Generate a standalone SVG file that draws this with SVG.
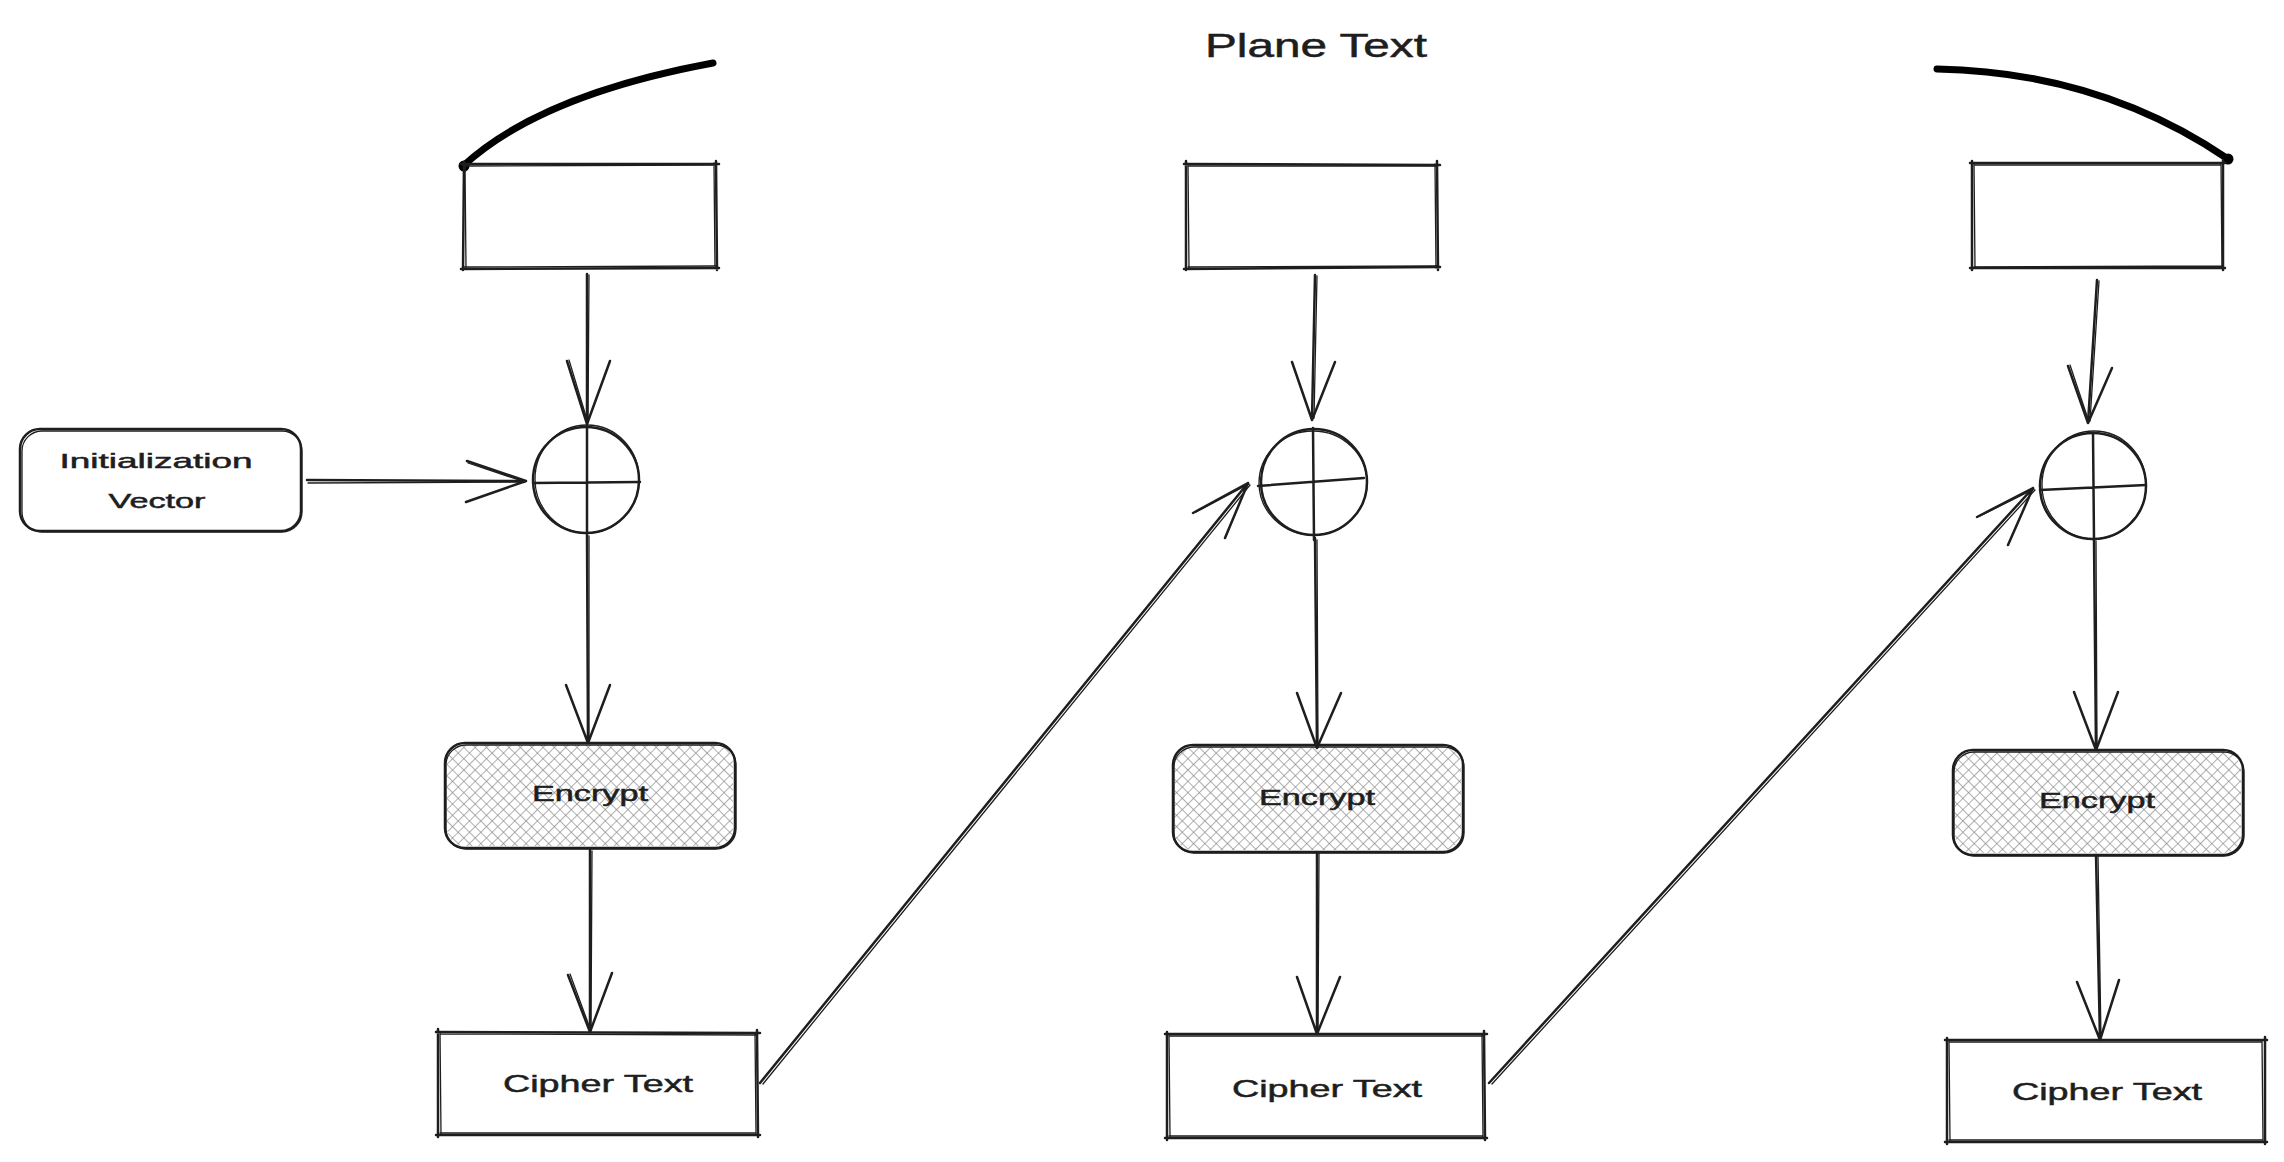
<svg xmlns="http://www.w3.org/2000/svg" width="2284" height="1162" viewBox="0 0 2284 1162">
<style>
.s{fill:none;stroke:#1e1e1e;stroke-width:2.5;stroke-linecap:round;stroke-linejoin:round}
.t{fill:none;stroke:#1e1e1e;stroke-width:1.3;stroke-linecap:round;stroke-linejoin:round}
.thick{fill:none;stroke:#000;stroke-width:7;stroke-linecap:round}
.lbl{font-family:"Liberation Sans","DejaVu Sans",sans-serif;fill:#1e1e1e;stroke:#1e1e1e;stroke-width:0.5;text-anchor:middle}
.enc{fill:url(#hatch)}
</style>
<defs>
<pattern id="hatch" patternUnits="userSpaceOnUse" width="8" height="8" patternTransform="rotate(45)">
<rect width="8" height="8" fill="#fff"/>
<line x1="0" y1="0" x2="0" y2="8" stroke="#8c8c8c" stroke-width="1.4"/>
<line x1="0" y1="0" x2="8" y2="0" stroke="#8c8c8c" stroke-width="1.4"/>
</pattern>
</defs>
<rect width="2284" height="1162" fill="#fff"/>

<g id="title">
<text class="lbl" x="1316" y="57" font-size="34" textLength="222" lengthAdjust="spacingAndGlyphs">Plane Text</text>
</g>

<g id="brace-left">
<path class="thick" d="M463,166 Q540,95 713,63"/>
<circle cx="464" cy="166" r="5.5" fill="#000"/>
</g>
<g id="brace-right">
<path class="thick" d="M1937,69 Q2100,72 2228,159"/>
<circle cx="2228" cy="159" r="5.5" fill="#000"/>
</g>

<g id="plain1">
<path class="s" d="M461,164 L719,164 M716,161 L717,270 M719,268 L461,269 M463,270 L464,162"/>
<path class="t" d="M464,166 L716,165 M714,163 L715,268 M716,266 L464,267 M466,268 L465,164"/>
</g>
<g id="plain2">
<path class="s" d="M1184,164 L1440,165 M1437,161 L1438,270 M1440,267 L1184,269 M1186,270 L1186,161"/>
<path class="t" d="M1188,166 L1436,166 M1435,164 L1436,268 M1437,266 L1188,267 M1189,268 L1188,164"/>
</g>
<g id="plain3">
<path class="s" d="M1970,163 L2225,163 M2223,160 L2223,270 M2225,268 L1970,268 M1972,270 L1972,161"/>
<path class="t" d="M1974,165 L2221,165 M2221,163 L2222,268 M2222,266 L1974,267 M1975,268 L1974,163"/>
</g>

<g id="iv">
<rect class="s" x="20" y="429" width="281" height="102" rx="20"/>
<rect class="t" x="22" y="431" width="280" height="101" rx="20"/>
<text class="lbl" x="156" y="468" font-size="21" textLength="193" lengthAdjust="spacingAndGlyphs">Initialization</text>
<text class="lbl" x="157" y="508" font-size="21" textLength="97" lengthAdjust="spacingAndGlyphs">Vector</text>
</g>

<g id="xor1">
<circle class="s" cx="586" cy="480" r="53"/>
<ellipse class="t" cx="587" cy="479" rx="52" ry="54"/>
<path class="s" d="M587,426 L587,534 M533,483 L640,482"/>
</g>
<g id="xor2">
<circle class="s" cx="1314" cy="482" r="53"/>
<ellipse class="t" cx="1313" cy="483" rx="54" ry="52"/>
<path class="s" d="M1313,428 L1314,540 M1258,486 L1364,478"/>
</g>
<g id="xor3">
<circle class="s" cx="2093" cy="486" r="53"/>
<ellipse class="t" cx="2094" cy="485" rx="52" ry="54"/>
<path class="s" d="M2093,433 L2094,540 M2040,490 L2146,485"/>
</g>

<g id="enc1">
<rect class="enc" x="447" y="745" width="286" height="101" rx="18"/>
<rect class="s" x="445" y="743" width="290" height="105" rx="20"/>
<rect class="t" x="446" y="745" width="290" height="104" rx="20"/>
<text class="lbl" x="590" y="801" font-size="22" textLength="116" lengthAdjust="spacingAndGlyphs">Encrypt</text>
</g>
<g id="enc2">
<rect class="enc" x="1175" y="747" width="286" height="103" rx="18"/>
<rect class="s" x="1173" y="745" width="290" height="107" rx="20"/>
<rect class="t" x="1174" y="747" width="290" height="106" rx="20"/>
<text class="lbl" x="1317" y="805" font-size="22" textLength="116" lengthAdjust="spacingAndGlyphs">Encrypt</text>
</g>
<g id="enc3">
<rect class="enc" x="1955" y="752" width="286" height="101" rx="18"/>
<rect class="s" x="1953" y="750" width="290" height="105" rx="20"/>
<rect class="t" x="1954" y="752" width="290" height="104" rx="20"/>
<text class="lbl" x="2097" y="808" font-size="22" textLength="116" lengthAdjust="spacingAndGlyphs">Encrypt</text>
</g>

<g id="cipher1">
<path class="s" d="M436,1032 L760,1033 M757,1030 L758,1137 M760,1135 L436,1135 M438,1137 L438,1029"/>
<path class="t" d="M440,1034 L756,1035 M755,1033 L756,1134 M756,1133 L440,1133 M441,1134 L440,1032"/>
<text class="lbl" x="598" y="1092" font-size="24" textLength="190" lengthAdjust="spacingAndGlyphs">Cipher Text</text>
</g>
<g id="cipher2">
<path class="s" d="M1165,1034 L1487,1034 M1484,1031 L1485,1140 M1487,1138 L1165,1138 M1167,1140 L1167,1032"/>
<path class="t" d="M1169,1036 L1483,1036 M1482,1035 L1483,1137 M1483,1136 L1169,1136 M1170,1137 L1169,1035"/>
<text class="lbl" x="1327" y="1097" font-size="24" textLength="190" lengthAdjust="spacingAndGlyphs">Cipher Text</text>
</g>
<g id="cipher3">
<path class="s" d="M1945,1040 L2267,1040 M2265,1037 L2265,1144 M2267,1142 L1945,1142 M1947,1144 L1947,1038"/>
<path class="t" d="M1949,1042 L2262,1042 M2262,1041 L2263,1141 M2263,1140 L1949,1140 M1950,1141 L1949,1041"/>
<text class="lbl" x="2107" y="1100" font-size="24" textLength="190" lengthAdjust="spacingAndGlyphs">Cipher Text</text>
</g>

<g id="connectors">
<path class="s" d="M587,274 L587,424 M567,361 L587,424 L610,361"/>
<path class="t" d="M589,275 L588,422 M569,360 L588,423"/>
<path class="s" d="M307,480 L526,481 M467,461 L526,481 L466,502"/>
<path class="t" d="M308,483 L524,482 M468,463 L525,482"/>
<path class="s" d="M587,535 L588,743 M566,685 L588,743 L610,685"/>
<path class="t" d="M589,536 L589,741"/>
<path class="s" d="M590,850 L590,1032 M568,975 L590,1032 L612,973"/>
<path class="t" d="M592,851 L591,1030 M570,974 L591,1031"/>
<path class="s" d="M760,1083 L1248,483 M1193,513 L1248,483 L1225,538"/>
<path class="t" d="M763,1084 L1250,485 M1196,512 L1249,484"/>

<path class="s" d="M1315,275 L1312,420 M1292,362 L1312,420 L1335,362"/>
<path class="t" d="M1317,276 L1314,418"/>
<path class="s" d="M1315,538 L1317,748 M1297,693 L1317,748 L1341,693"/>
<path class="t" d="M1317,540 L1318,746"/>
<path class="s" d="M1317,852 L1317,1034 M1297,977 L1317,1034 L1340,977"/>
<path class="t" d="M1319,853 L1318,1032"/>
<path class="s" d="M1489,1083 L2033,488 M1977,517 L2033,488 L2008,545"/>
<path class="t" d="M1492,1084 L2035,490 M1980,516 L2034,489"/>

<path class="s" d="M2097,280 L2088,423 M2068,366 L2088,423 L2112,368"/>
<path class="t" d="M2099,281 L2090,421 M2070,365 L2089,422"/>
<path class="s" d="M2094,540 L2096,750 M2074,692 L2096,750 L2118,692"/>
<path class="t" d="M2096,541 L2097,748"/>
<path class="s" d="M2096,855 L2100,1040 M2077,982 L2100,1040 L2119,980"/>
<path class="t" d="M2098,856 L2101,1038"/>
</g>
</svg>
